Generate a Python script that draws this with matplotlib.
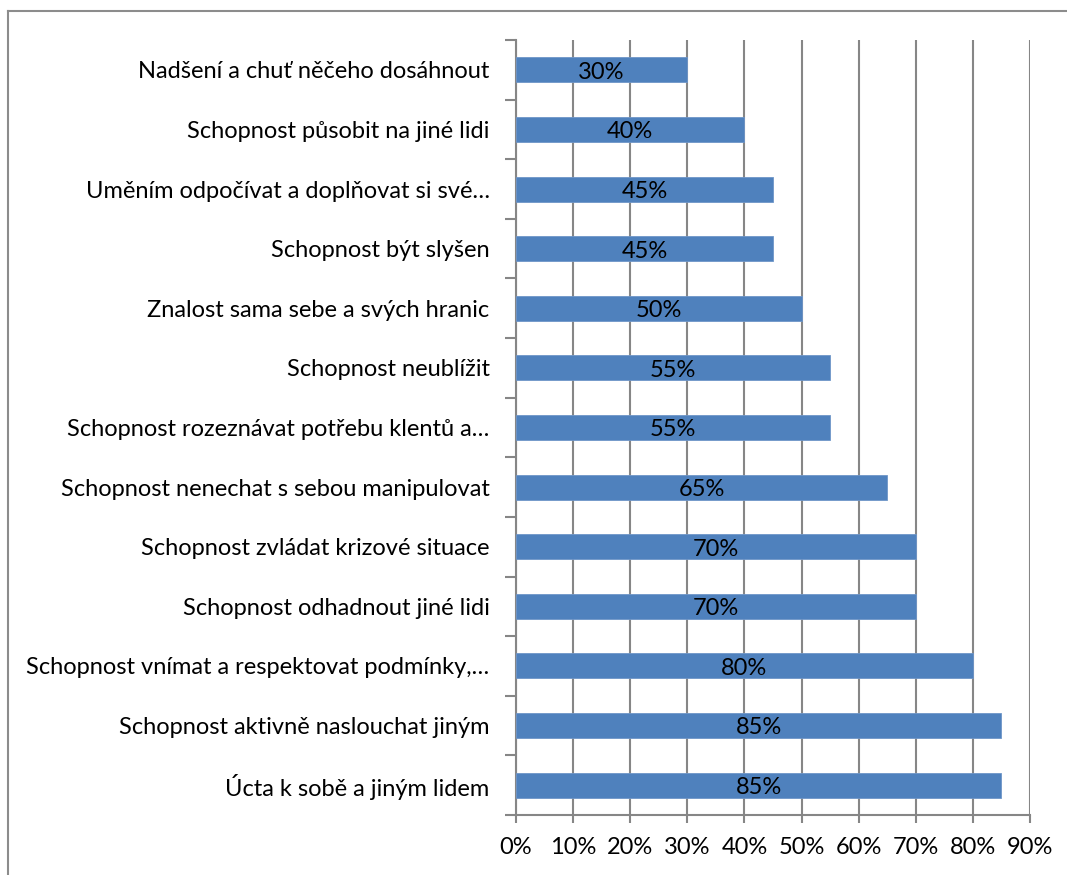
import matplotlib.pyplot as plt
from matplotlib.lines import Line2D
import numpy as np

plt.rcParams['font.family'] = ['Lato', 'DejaVu Sans']

labels = ["Nadšení a chuť něčeho dosáhnout",
          "Schopnost působit na jiné lidi",
          "Uměním odpočívat a doplňovat si své…",
          "Schopnost být slyšen",
          "Znalost sama sebe a svých hranic",
          "Schopnost neublížit",
          "Schopnost rozeznávat potřebu klentů a…",
          "Schopnost nenechat s sebou manipulovat",
          "Schopnost zvládat krizové situace",
          "Schopnost odhadnout jiné lidi",
          "Schopnost vnímat a respektovat podmínky,…",
          "Schopnost aktivně naslouchat jiným",
          "Úcta k sobě a jiným lidem"]
values = [30, 40, 45, 45, 50, 55, 55, 65, 70, 70, 80, 85, 85]
xticks = [0, 10, 20, 30, 40, 50, 60, 70, 80, 90]

gray = '#868686'
fs = 17

fig = plt.figure(figsize=(10.67, 8.75), dpi=100)
ax = fig.add_axes([516/1067, 1 - 815/875, 514/1067, 775/875])

n = len(labels)
ypos = np.arange(n)[::-1]
bars = ax.barh(ypos, values, height=0.42, color='#4F81BD', edgecolor='#6f96c8', linewidth=0.6, zorder=3)

for b, v in zip(bars, values):
    ax.text(b.get_width() / 2, b.get_y() + b.get_height() / 2 - 0.04, "%d%%" % v,
            ha='center', va='center', fontsize=fs, color='black', zorder=4)

ax.set_xlim(0, 90)
ax.set_ylim(-0.5, n - 0.5)
ax.set_xticks(xticks)
ax.set_xticklabels(["%d%%" % t for t in xticks], fontsize=fs)
ax.set_yticks(ypos)
ax.set_yticklabels(labels, fontsize=fs)
ax.set_yticks(np.arange(n + 1) - 0.5, minor=True)

ax.tick_params(axis='y', which='major', length=0, pad=19)
ax.tick_params(axis='y', which='minor', length=8, width=1.5, color=gray, direction='out')
ax.tick_params(axis='x', which='major', length=6, width=1.5, color=gray, direction='out', pad=10)

ax.grid(axis='x', color=gray, linewidth=1.5, zorder=0)
for s in ['top', 'right']:
    ax.spines[s].set_visible(False)
for s in ['left', 'bottom']:
    ax.spines[s].set_color(gray)
    ax.spines[s].set_linewidth(1.5)

# outer chart frame
fig.add_artist(Line2D([8/1067, 8/1067], [0, 1 - 11/875], color='#8c8c8c', lw=1.5, transform=fig.transFigure))
fig.add_artist(Line2D([8/1067, 1], [1 - 11/875, 1 - 11/875], color='#8c8c8c', lw=1.5, transform=fig.transFigure))

plt.savefig('out.png', dpi=100)
